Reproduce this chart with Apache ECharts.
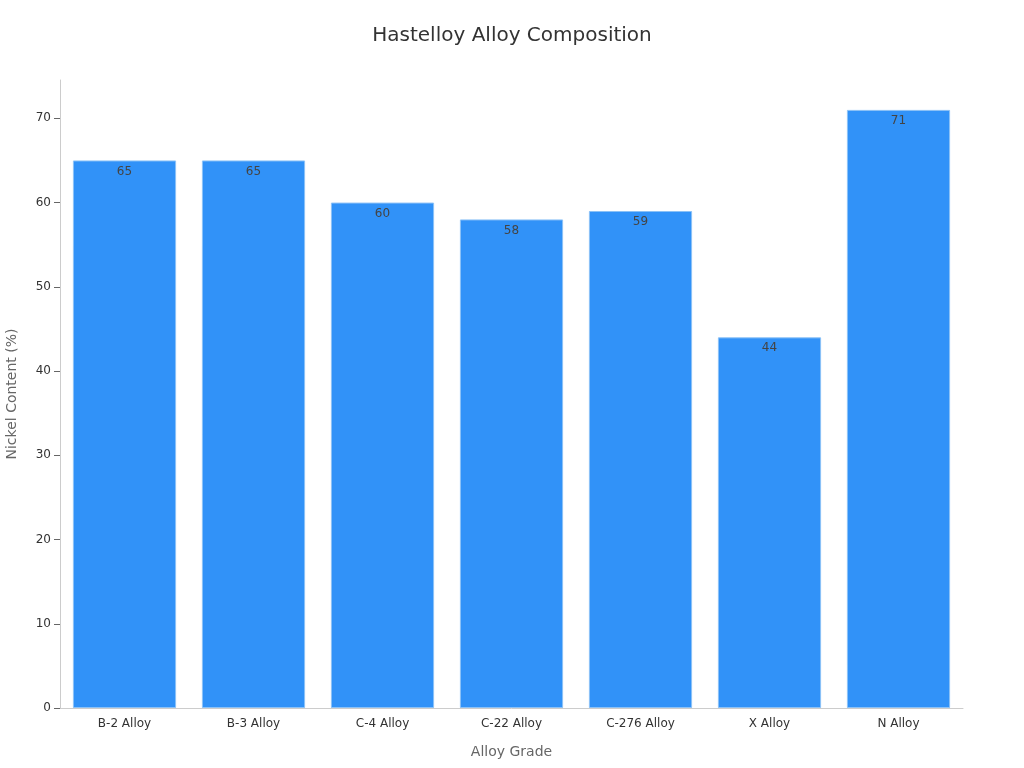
<!DOCTYPE html>
<html><head><meta charset="utf-8">
<script src="https://cdn.jsdelivr.net/npm/echarts@6/dist/echarts.min.js"></script>
<style>html,body{margin:0;padding:0;background:#fff}#c{width:1024px;height:768px}</style>
</head><body><div id="c"></div>
<script>
const categories = ["B-2 Alloy","B-3 Alloy","C-4 Alloy","C-22 Alloy","C-276 Alloy","X Alloy","N Alloy"];
const nickelValues = [65,65,60,58,59,44,71];
const yTicks = [0,10,20,30,40,50,60,70];

const chart = echarts.init(document.getElementById('c'));
chart.setOption({
  animation:false,
  textStyle:{fontFamily:'DejaVu Sans'},
  title:{text:'Hastelloy Alloy Composition',left:'center',top:21,textStyle:{fontSize:20,fontWeight:'normal',color:'#333',fontFamily:'DejaVu Sans'}},
  grid:{left:60,right:61,top:80,bottom:60,containLabel:false,outerBoundsMode:'none'},
  xAxis:{type:'category',data:categories,name:'Alloy Grade',nameLocation:'middle',nameGap:37,
    nameTextStyle:{fontSize:14,color:'#666'},
    axisLine:{lineStyle:{color:'#ccc'}},
    axisTick:{alignWithLabel:true,length:5,lineStyle:{color:'#666'}},
    axisLabel:{fontSize:12,color:'#333',margin:10}},
  yAxis:{type:'value',min:0,max:v=>v.max*1.05,interval:10,name:'Nickel Content (%)',nameLocation:'middle',nameGap:41,
    nameTextStyle:{fontSize:14,color:'#666'},
    axisLine:{show:true,lineStyle:{color:'#ccc'}},
    axisTick:{show:true,length:6,lineStyle:{color:'#666'},customValues:yTicks},
    splitLine:{show:false},
    axisLabel:{fontSize:12,color:'#333',margin:9,customValues:yTicks}},
  series:[{type:'bar',data:nickelValues,barCategoryGap:'20%',
    itemStyle:{color:'#3192f8',borderColor:'#8cc2f7',borderWidth:1},
    label:{show:true,position:'insideTop',distance:5,fontSize:12,color:'#444'}}]
});
</script></body></html>
